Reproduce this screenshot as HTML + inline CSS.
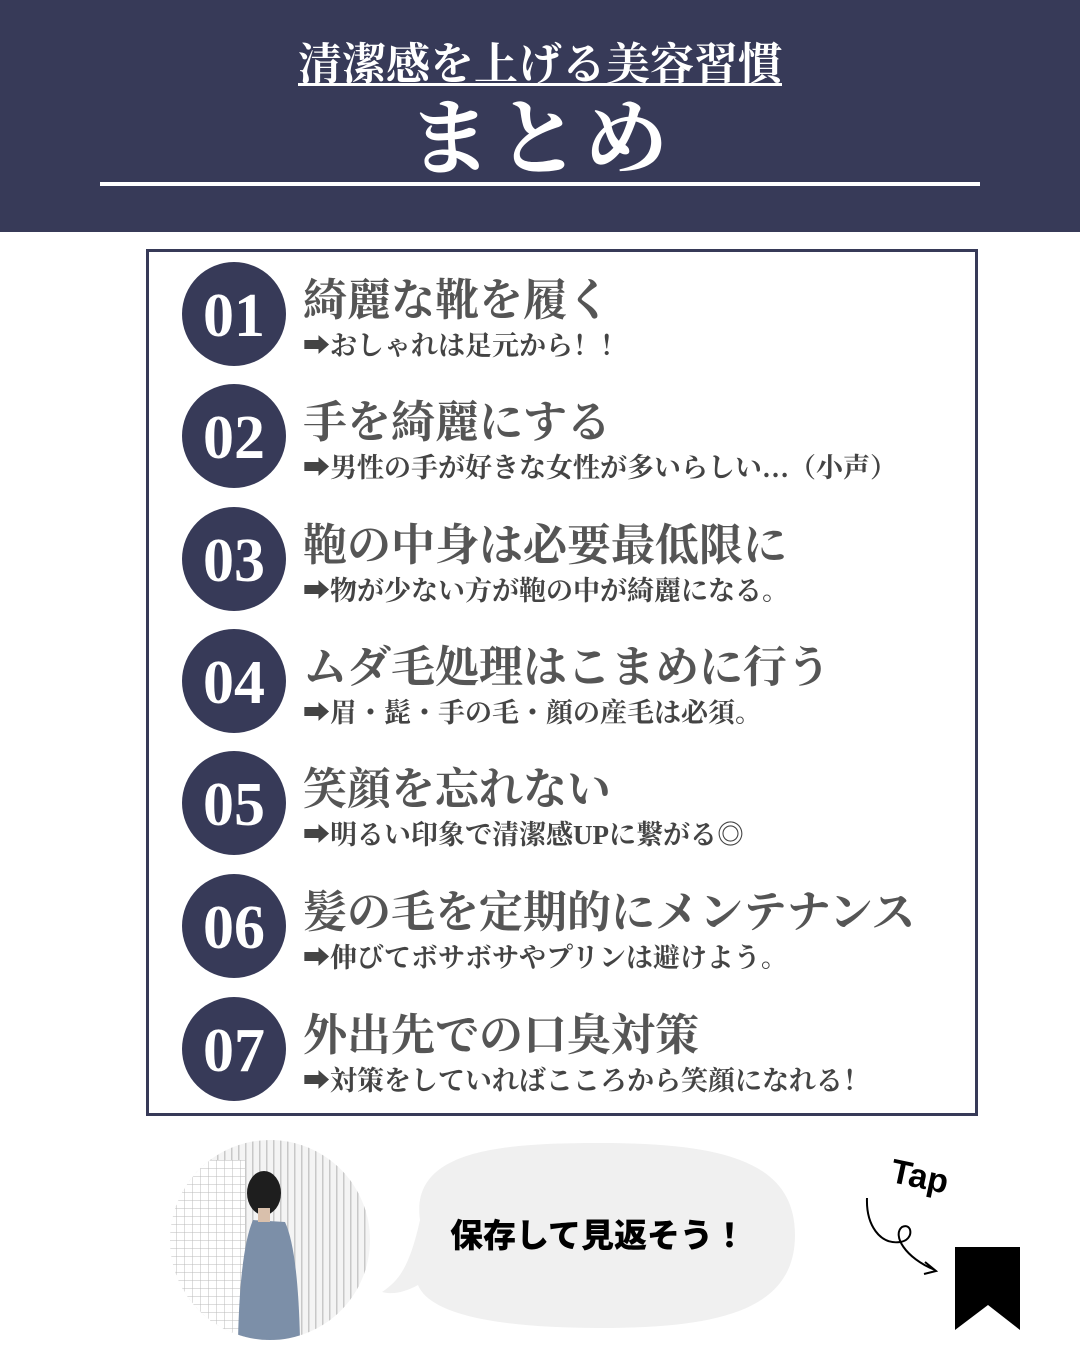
<!DOCTYPE html>
<html><head><meta charset="utf-8"><style>
body{margin:0;width:1080px;height:1350px;background:#fff;position:relative;overflow:hidden;font-family:"Liberation Serif","Noto Serif CJK SC",serif}
.hd{position:absolute;left:0;top:0;width:1080px;height:232px;background:#373a58}
.t1{position:absolute;left:0;width:1080px;top:28px;text-align:center;color:#fff;font-size:44px;font-weight:bold;text-decoration:underline;text-underline-offset:4px;text-decoration-thickness:3px}
.t2{position:absolute;left:0;width:1080px;top:72px;text-align:center;color:#fff;font-size:84px;font-weight:bold;letter-spacing:4px}
.ln{position:absolute;left:100px;top:182px;width:880px;height:4px;background:#fff}
.box{position:absolute;left:146px;top:249px;width:826px;height:861px;border:3px solid #373a58}
.c{position:absolute;left:182px;width:104px;height:104px;border-radius:50%;background:#373a58;color:#fff;font-size:62px;font-weight:bold;text-align:center;line-height:108px}
.h{position:absolute;left:303px;font-size:44px;font-weight:bold;color:#555;white-space:nowrap}
.s{position:absolute;left:303px;font-size:27px;font-weight:bold;color:#444;white-space:nowrap}
</style></head><body>
<div class="hd"></div>
<div class="t1">清潔感を上げる美容習慣</div>
<div class="t2">まとめ</div>
<div class="ln"></div>
<div class="box"></div>

<div class="c" style="top:262px">01</div>
<div class="h" style="top:264px">綺麗な靴を履く</div>
<div class="s" style="top:324px">➡おしゃれは足元から！！</div>

<div class="c" style="top:384px">02</div>
<div class="h" style="top:386px">手を綺麗にする</div>
<div class="s" style="top:446px">➡男性の手が好きな女性が多いらしい…（小声）</div>

<div class="c" style="top:507px">03</div>
<div class="h" style="top:509px">鞄の中身は必要最低限に</div>
<div class="s" style="top:569px">➡物が少ない方が鞄の中が綺麗になる。</div>

<div class="c" style="top:629px">04</div>
<div class="h" style="top:631px">ムダ毛処理はこまめに行う</div>
<div class="s" style="top:691px">➡眉・髭・手の毛・顔の産毛は必須。</div>

<div class="c" style="top:751px">05</div>
<div class="h" style="top:753px">笑顔を忘れない</div>
<div class="s" style="top:813px">➡明るい印象で清潔感UPに繋がる◎</div>

<div class="c" style="top:874px">06</div>
<div class="h" style="top:876px">髪の毛を定期的にメンテナンス</div>
<div class="s" style="top:936px">➡伸びてボサボサやプリンは避けよう。</div>

<div class="c" style="top:997px">07</div>
<div class="h" style="top:999px">外出先での口臭対策</div>
<div class="s" style="top:1059px">➡対策をしていればこころから笑顔になれる！</div>

<svg style="position:absolute;left:0;top:0" width="1080" height="1350">
<defs><clipPath id="cp"><ellipse cx="270" cy="1240" rx="100" ry="100"/></clipPath>
<pattern id="g" width="8" height="8" patternUnits="userSpaceOnUse"><rect width="8" height="8" fill="#fff"/><path d="M0 0H8M0 0V8" stroke="#bbb" stroke-width="1"/></pattern>
<pattern id="v" width="7" height="8" patternUnits="userSpaceOnUse"><rect width="7" height="8" fill="#f4f4f4"/><rect width="1.5" height="8" fill="#c8c8c8"/></pattern></defs>
<g clip-path="url(#cp)">
<rect x="170" y="1140" width="200" height="200" fill="url(#v)"/>
<rect x="170" y="1160" width="75" height="180" fill="url(#g)"/>
<path d="M253 1220 Q240 1250 238 1340 L300 1340 Q298 1250 285 1222 Z" fill="#7c8fa8"/>
<ellipse cx="264" cy="1193" rx="17" ry="22" fill="#1e1e1e"/>
<rect x="258" y="1208" width="12" height="14" fill="#d9c0ac"/>
</g>
<path d="M420 1220 C410 1150 500 1143 600 1143 C720 1143 795 1160 795 1235 C795 1310 720 1328 600 1328 C500 1328 430 1315 418 1285 C405 1292 393 1295 382 1292 C400 1280 410 1265 420 1220 Z" fill="#f0f0f0"/>
<text x="598" y="1247" text-anchor="middle" font-family="Liberation Sans,Noto Sans CJK JP,sans-serif" font-weight="900" font-size="33" fill="#000">保存して見返そう！</text>
<text x="890" y="1188" font-family="Liberation Sans,sans-serif" font-weight="bold" font-size="34" fill="#000" transform="rotate(12 920 1180)">Tap</text>
<path d="M867 1198 C866 1225 880 1245 900 1242 C915 1240 912 1222 902 1227 C892 1235 905 1258 935 1270 M925 1262 L936 1271 L924 1274" fill="none" stroke="#000" stroke-width="2"/>
<path d="M955 1247 H1020 V1330 L988 1305 L955 1330 Z" fill="#000"/>
</svg>
</body></html>
